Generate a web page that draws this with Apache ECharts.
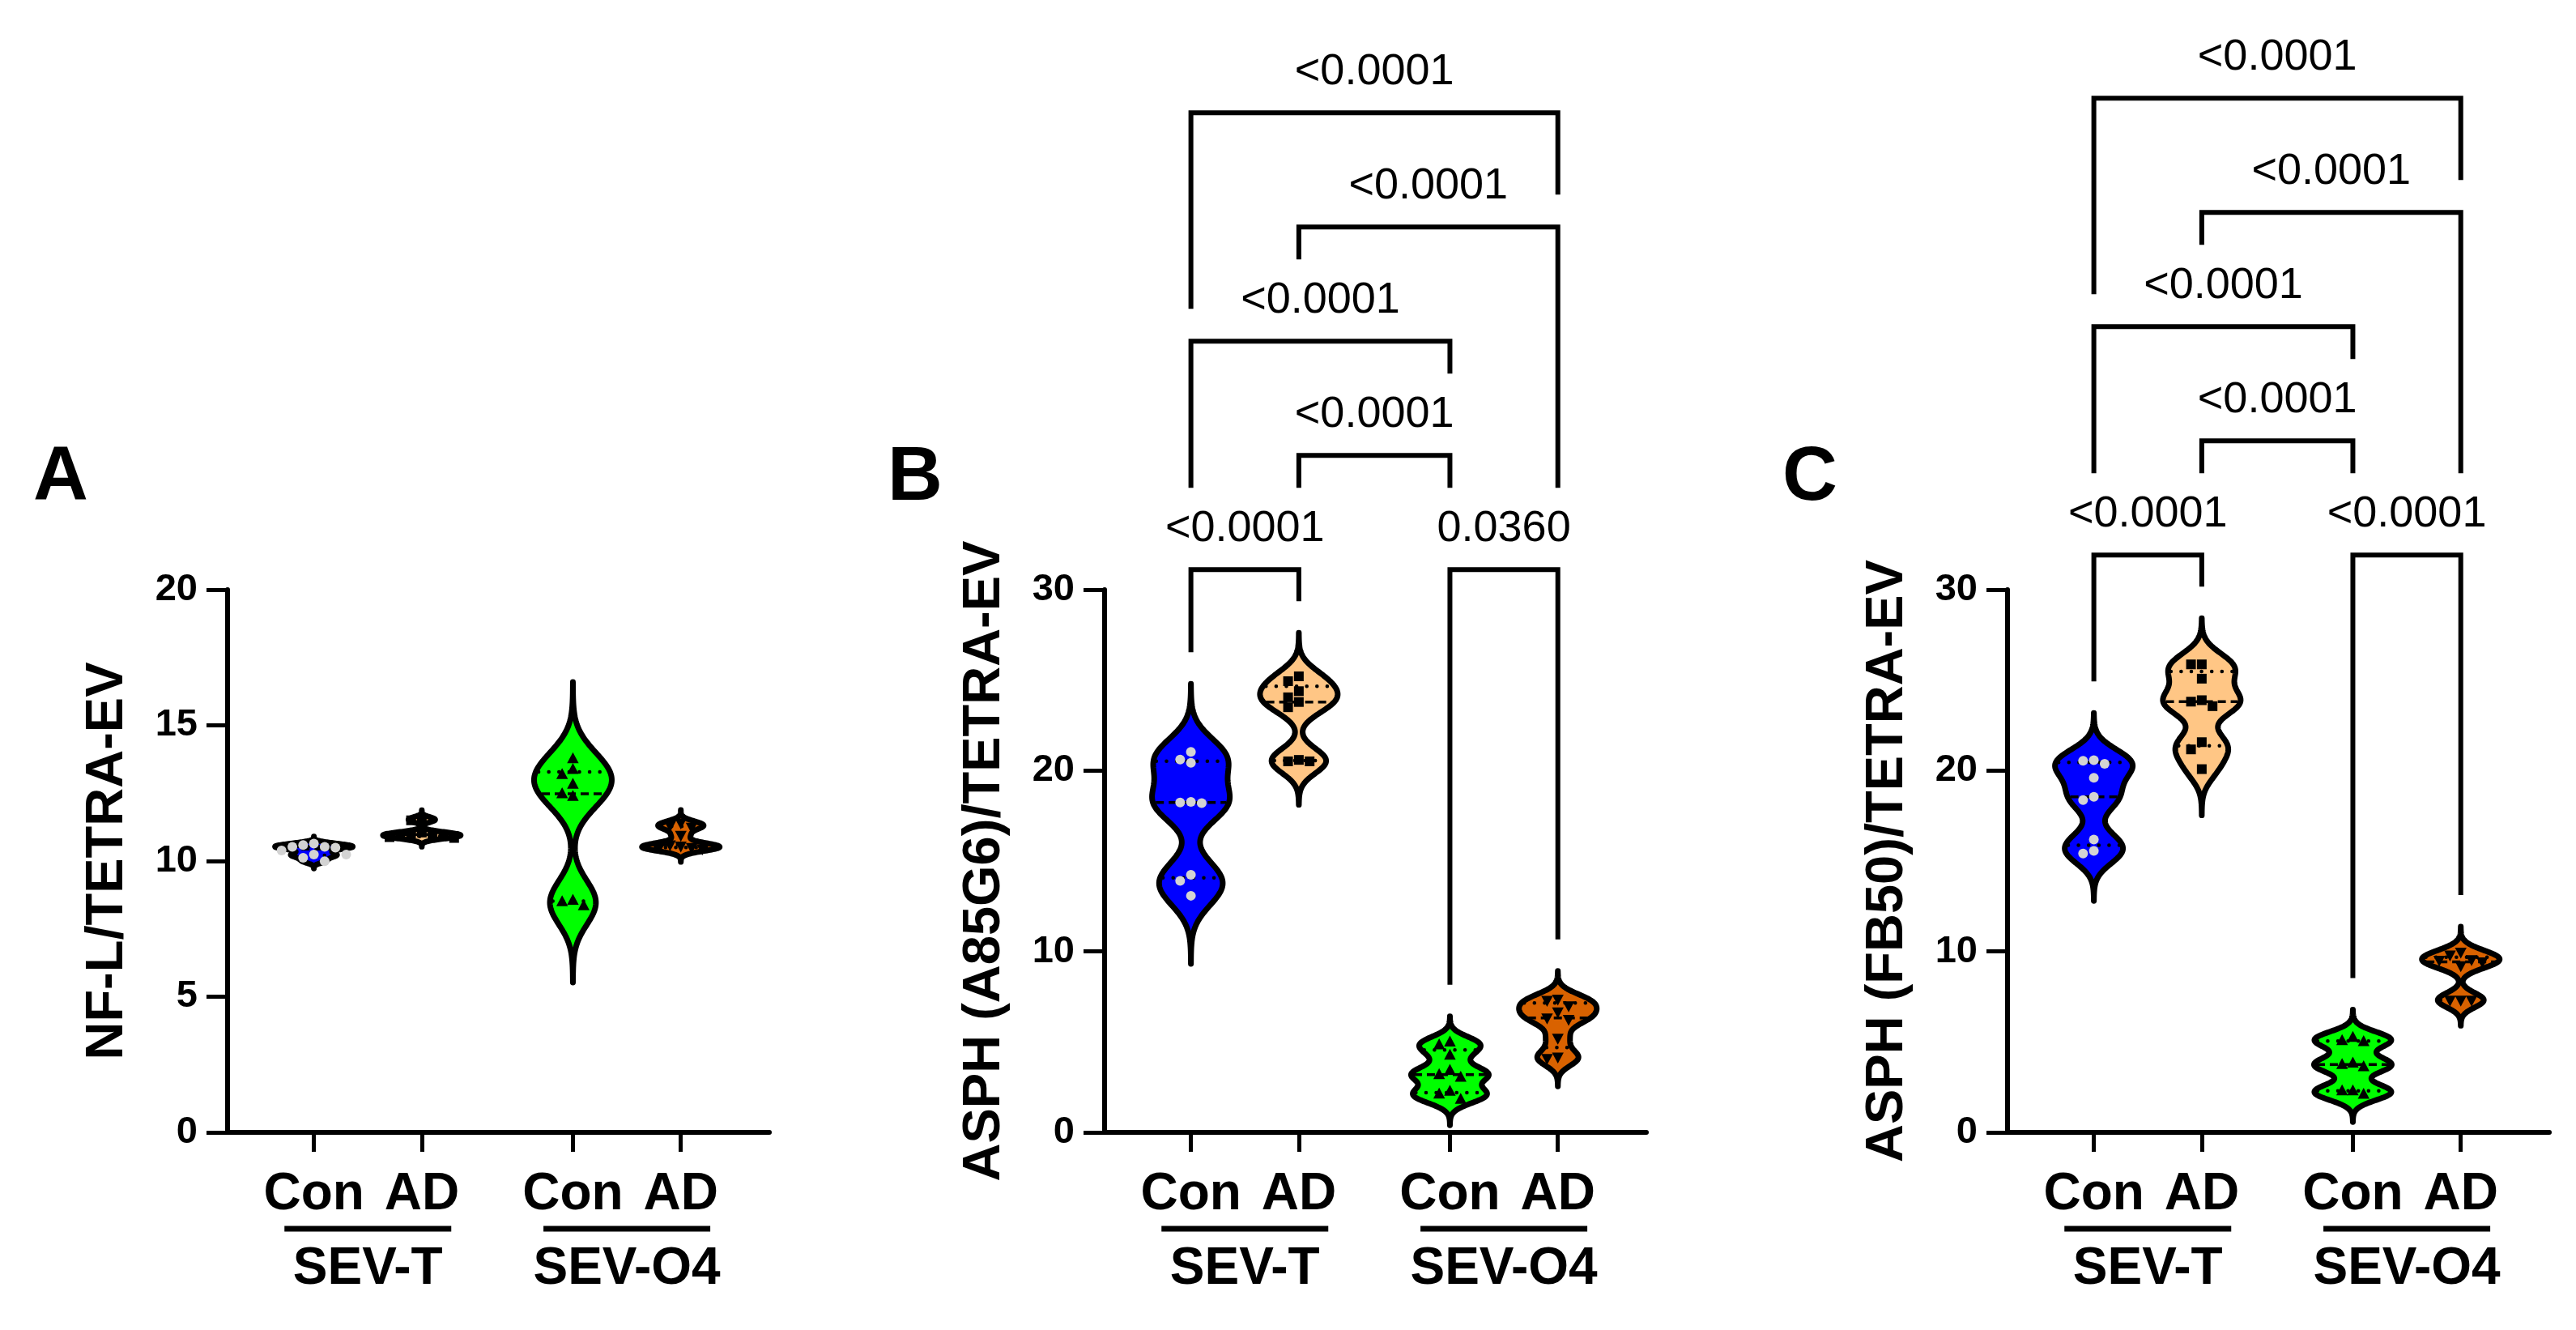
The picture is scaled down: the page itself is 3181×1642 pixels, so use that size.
<!DOCTYPE html>
<html>
<head>
<meta charset="utf-8">
<script src="https://cdn.jsdelivr.net/npm/echarts@6/dist/echarts.min.js"></script>
<style>html,body{margin:0;padding:0;background:#fff}#c{width:3181px;height:1642px}</style>
</head>
<body>
<div id="c"></div>
<script>
// ---------------- data ----------------
const CATEGORIES = ['Con', 'AD', 'Con', 'AD'];
const GROUP_LABELS = ['SEV-T', 'SEV-O4'];
const CAT_POS = [0, 1, 2.4, 3.4];
const PANEL_LETTERS = ['A', 'B', 'C'];
const Y_TITLES = ['NF-L/TETRA-EV', 'ASPH (A85G6)/TETRA-EV', 'ASPH (FB50)/TETRA-EV'];
const Y_MAX = [20, 30, 30];
const Y_INTERVAL = [5, 10, 10];

// Panel A  (NF-L)
const A_CON_T  = [10.64, 10.59, 10.52, 10.52, 10.49, 10.39, 10.24, 10.24, 10.12, 9.99];
const A_AD_T   = [11.55, 11.5, 11.05, 11.0, 10.98, 10.95, 10.92, 10.88, 10.85];
const A_CON_O4 = [13.77, 13.37, 13.19, 12.83, 12.48, 12.38, 8.55, 8.5, 8.35];
const A_AD_O4  = [11.4, 11.3, 11.25, 10.95, 10.6, 10.55, 10.5, 10.5, 10.45];
// Panel B  (ASPH A85G6)
const B_CON_T  = [21.03, 20.61, 20.43, 18.27, 18.23, 18.2, 14.24, 13.9, 13.08];
const B_AD_T   = [25.21, 24.94, 24.39, 24.05, 23.79, 23.5, 20.59, 20.51, 20.51];
const B_CON_O4 = [4.99, 4.84, 4.27, 3.42, 3.19, 3.05, 2.27, 2.12, 1.82];
const B_AD_O4  = [7.37, 7.3, 7.0, 6.66, 6.33, 6.25, 5.21, 4.16, 4.09];
// Panel C  (ASPH FB50)
const C_CON_T  = [20.57, 20.54, 20.37, 19.6, 18.55, 18.37, 16.19, 15.56, 15.41];
const C_AD_T   = [25.87, 25.87, 25.08, 23.89, 23.81, 23.56, 21.57, 21.17, 20.08];
const C_CON_O4 = [5.25, 5.07, 5.02, 3.83, 3.75, 3.63, 2.29, 2.29, 2.11];
const C_AD_O4  = [9.96, 9.81, 9.55, 9.51, 9.43, 9.21, 7.31, 7.31, 7.31];

// comparisons (group index pairs) and p-value labels
const PAIRS = [[0, 1], [2, 3], [1, 2], [0, 2], [1, 3], [0, 3]];
const B_PVALUES = ['<0.0001', '0.0360', '<0.0001', '<0.0001', '<0.0001', '<0.0001'];
const C_PVALUES = ['<0.0001', '<0.0001', '<0.0001', '<0.0001', '<0.0001', '<0.0001'];

// ---------------- layout / style ----------------
const PANEL_VALUES = [
  [A_CON_T, A_AD_T, A_CON_O4, A_AD_O4],
  [B_CON_T, B_AD_T, B_CON_O4, B_AD_O4],
  [C_CON_T, C_AD_T, C_CON_O4, C_AD_O4]
];
const PANEL_PVALUES = [null, B_PVALUES, C_PVALUES];
// bracket layout: [level, left leg rule, right leg rule]
const PAIR_LAYOUT = [[0, 'data', 'data'], [0, 'data', 'data'], [1, 'short', 'short'],
                     [2, 'floor', 'short'], [3, 'short', 'floor'], [4, 'lv2', 'lv3']];
const FILLS = ['#0000ff', '#ffc685', '#00ff00', '#d96200'];
const MARKERS = ['circle', 'square', 'triangle', 'triangleDown'];
const MARKER_COLORS = ['#d3d3d3', '#000', '#000', '#000'];
const FONT = "'Liberation Sans', Arial, Helvetica, sans-serif";
const GRID_LEFT = [281, 1364, 2479];
const GRID_TOP = 728, GRID_W = 669, GRID_H = 670;
const X_MIN = -0.8, X_MAX = 4.22;
const VIOLIN_HALF = 48;
const BW_FACTOR = 0.35, CUT = 3.5;
const LETTER_X = [41, 1096, 2201];

function quantile(s, p) {
  const n = s.length, pos = (n + 1) * p, lo = Math.floor(pos), fr = pos - lo;
  if (lo < 1) return s[0];
  if (lo >= n) return s[n - 1];
  return s[lo - 1] + fr * (s[lo] - s[lo - 1]);
}
function groupStats(vals) {
  const n = vals.length, s = [...vals].sort((a, b) => a - b);
  const mean = vals.reduce((a, b) => a + b, 0) / n;
  const sd = Math.sqrt(vals.reduce((a, b) => a + (b - mean) * (b - mean), 0) / (n - 1));
  const h = BW_FACTOR * sd;
  const lo = s[0] - CUT * h, hi = s[n - 1] + CUT * h;
  const dens = y => vals.reduce((a, v) => a + Math.exp(-0.5 * ((y - v) / h) * ((y - v) / h)), 0);
  let dmax = 0;
  for (let i = 0; i <= 400; i++) dmax = Math.max(dmax, dens(lo + (hi - lo) * i / 400));
  return { vals, s, lo, hi, dens, dmax, q1: quantile(s, 0.25), med: quantile(s, 0.5), q3: quantile(s, 0.75) };
}
const STATS = PANEL_VALUES.map(pv => pv.map(groupStats));

function markerShape(type, x, y, color) {
  if (type === 'circle') return { type: 'circle', shape: { cx: x, cy: y, r: 6 }, style: { fill: color } };
  if (type === 'square') return { type: 'rect', shape: { x: x - 6, y: y - 6, width: 12, height: 12 }, style: { fill: color } };
  if (type === 'triangle') return { type: 'polygon', shape: { points: [[x, y - 8], [x - 7.2, y + 5.5], [x + 7.2, y + 5.5]] }, style: { fill: color } };
  return { type: 'polygon', shape: { points: [[x, y + 8], [x - 7.2, y - 5.5], [x + 7.2, y - 5.5]] }, style: { fill: color } };
}

function makeRender(p) {
  return function (params, api) {
    const xv = api.value(0), gi = api.value(1);
    const st = STATS[p][gi];
    const cx = api.coord([xv, 0])[0];
    const hw = y => VIOLIN_HALF * st.dens(y) / st.dmax;
    const N = 200, right = [], left = [];
    for (let i = 0; i <= N; i++) {
      const y = st.lo + (st.hi - st.lo) * i / N;
      const py = api.coord([xv, y])[1];
      const w = hw(y);
      right.push([cx + w, py]);
      left.unshift([cx - w, py]);
    }
    const children = [{
      type: 'polygon', shape: { points: right.concat(left) },
      style: { fill: FILLS[gi], stroke: '#000', lineWidth: 7, lineJoin: 'round' }
    }];
    [['q1', false], ['med', true], ['q3', false]].forEach(([k, dashed]) => {
      const v = st[k], py = api.coord([xv, v])[1], w = Math.max(hw(v) - 3.5, 0);
      children.push({
        type: 'line', shape: { x1: cx - w, y1: py, x2: cx + w, y2: py },
        style: dashed ? { stroke: '#000', lineWidth: 3.5, lineDash: [10, 6] }
                      : { stroke: '#000', lineWidth: 4.5, lineDash: [0.1, 12.5], lineCap: 'round' }
      });
    });
    // simple beeswarm placement
    const placed = [];
    const order = [...st.vals].sort((a, b) => b - a);
    const STEP = 13.3, MIN = 12;
    order.forEach(v => {
      const py = api.coord([xv, v])[1];
      for (const k of [0, -1, 1, -2, 2, -3, 3, -4, 4]) {
        const ox = k * STEP;
        if (placed.every(q => Math.hypot(q.ox - ox, q.py - py) >= MIN)) { placed.push({ ox, py }); break; }
      }
    });
    placed.forEach(q => children.push(markerShape(MARKERS[gi], cx + q.ox, q.py, MARKER_COLORS[gi])));
    return { type: 'group', children };
  };
}

const grids = [], xAxes = [], yAxes = [], series = [];
for (let p = 0; p < 3; p++) {
  grids.push({ left: GRID_LEFT[p], top: GRID_TOP, width: GRID_W, height: GRID_H });
  xAxes.push({
    type: 'value', gridIndex: p, min: X_MIN, max: X_MAX,
    axisLine: { show: true, onZero: false, lineStyle: { color: '#000', width: 6 } },
    axisTick: { show: true, customValues: CAT_POS, length: 24, lineStyle: { color: '#000', width: 5 } },
    axisLabel: {
      show: true, customValues: CAT_POS, margin: 45,
      formatter: v => CATEGORIES[CAT_POS.findIndex(c => Math.abs(c - v) < 1e-6)] || '',
      color: '#000', fontSize: 64, fontWeight: 'bold', fontFamily: FONT
    },
    splitLine: { show: false }
  });
  yAxes.push({
    type: 'value', gridIndex: p, min: 0, max: Y_MAX[p], interval: Y_INTERVAL[p],
    name: Y_TITLES[p], nameLocation: 'middle', nameGap: 115, nameRotate: 90,
    nameTextStyle: { color: '#000', fontSize: 65, fontWeight: 'bold', fontFamily: FONT },
    axisLine: { show: true, onZero: false, lineStyle: { color: '#000', width: 6 } },
    axisTick: { show: true, length: 26, lineStyle: { color: '#000', width: 5 } },
    axisLabel: { color: '#000', fontSize: 47, fontWeight: 'bold', fontFamily: FONT, margin: 37 },
    splitLine: { show: false }
  });
  series.push({
    type: 'custom', xAxisIndex: p, yAxisIndex: p, clip: false, silent: true,
    data: CAT_POS.map((x, i) => [x, i]),
    encode: { x: 0 },
    renderItem: makeRender(p)
  });
}

const chart = echarts.init(document.getElementById('c'), null, { renderer: 'canvas' });
chart.setOption({ animation: false, backgroundColor: '#fff', grid: grids, xAxis: xAxes, yAxis: yAxes, series });

// ---------------- annotations (brackets, group labels, panel letters) ----------------
function txt(x, y, text, size, weight, align) {
  return {
    type: 'text', x, y, silent: true,
    style: { text, fontSize: size, fontWeight: weight, fontFamily: FONT, fill: '#000',
             align: align, textAlign: align, verticalAlign: 'middle', textVerticalAlign: 'middle' }
  };
}
const graphics = [];
for (let p = 0; p < 3; p++) {
  const toPx = (x, y) => chart.convertToPixel({ gridIndex: p }, [x, y]);
  graphics.push(txt(LETTER_X[p], 591, PANEL_LETTERS[p], 94, 'bold', 'left'));
  // group labels with underline
  for (let g = 0; g < 2; g++) {
    const cx = (toPx(CAT_POS[2 * g], 0)[0] + toPx(CAT_POS[2 * g + 1], 0)[0]) / 2;
    graphics.push({ type: 'rect', silent: true, shape: { x: cx - 103, y: 1513.5, width: 206, height: 7 }, style: { fill: '#000' } });
    graphics.push(txt(cx, 1567, GROUP_LABELS[g], 64, 'bold', 'center'));
  }
  const pv = PANEL_PVALUES[p];
  if (!pv) continue;
  const st = STATS[p];
  const tops = st.map((s, i) => toPx(CAT_POS[i], s.hi)[1]);
  const base = Math.min(...tops) - 78;
  const levelY = k => base - k * 141;
  const legEnd = (rule, gi, k) => {
    if (rule === 'data') return tops[gi] - 39;
    if (rule === 'short') return levelY(k) + 40;
    if (rule === 'floor') return levelY(1) + 40;
    return levelY(+rule.slice(2)) - 40;
  };
  PAIRS.forEach(([a, b], i) => {
    const [k, ra, rb] = PAIR_LAYOUT[i];
    const y = levelY(k);
    const xa = toPx(CAT_POS[a], 0)[0], xb = toPx(CAT_POS[b], 0)[0];
    graphics.push({
      type: 'polyline', silent: true,
      shape: { points: [[xa, legEnd(ra, a, k)], [xa, y], [xb, y], [xb, legEnd(rb, b, k)]] },
      style: { stroke: '#000', lineWidth: 6, fill: null, lineJoin: 'miter' }
    });
    graphics.push(txt((xa + xb) / 2, y - 50, pv[i], 54, 'normal', 'center'));
  });
}
chart.setOption({ graphic: { elements: graphics } });
</script>
</body>
</html>
